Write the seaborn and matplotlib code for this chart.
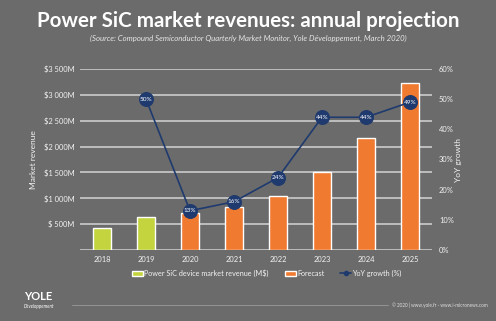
import numpy as np
import pandas as pd
import matplotlib
matplotlib.use("Agg")
import matplotlib.pyplot as plt
import seaborn as sns
from matplotlib.patches import Patch
from matplotlib.lines import Line2D

years = ["2018", "2019", "2020", "2021", "2022", "2023", "2024", "2025"]
revenue = [420, 630, 720, 840, 1040, 1500, 2170, 3230]
kind = ["Actual", "Actual", "Forecast", "Forecast", "Forecast", "Forecast", "Forecast", "Forecast"]
yoy_years = ["2019", "2020", "2021", "2022", "2023", "2024", "2025"]
yoy = [50, 13, 16, 24, 44, 44, 49]
left_ticks = [500, 1000, 1500, 2000, 2500, 3000, 3500]
left_labels = ["$ 500M", "$1 000M", "$1 500M", "$2 000M", "$2 500M", "$3 000M", "$3 500M"]
right_ticks = [0, 10, 20, 30, 40, 50, 60]

BG = "#6b6b6b"
GREEN = "#c3d43f"
ORANGE = "#f07a30"
NAVY = "#1f3a6e"
GRID = "#c4c4c4"
TXT = "#f2f2f2"

sns.set_theme(style="white")
plt.rcParams["font.family"] = ["Lato", "DejaVu Sans"]

fig = plt.figure(figsize=(4.96, 3.21), dpi=100, facecolor=BG)
ax = fig.add_axes([80/496, 1-250/321, 352/496, 181/321])
ax.set_facecolor(BG)

df = pd.DataFrame({"year": years, "revenue": revenue, "kind": kind})
sns.barplot(data=df, x="year", y="revenue", hue="kind", palette={"Actual": GREEN, "Forecast": ORANGE},
            dodge=False, width=0.41, ax=ax, legend=False, saturation=1)
ax.set_ylim(0, 3500)
ax.set_xlim(-0.5, 7.5)
ax.set_yticks(left_ticks)
ax.set_yticklabels(left_labels)
ax.yaxis.grid(True, color=GRID, linewidth=1.3)
ax.axhline(0, color=GRID, linewidth=1.3, zorder=0.5)
ax.set_axisbelow(True)
for s in ax.spines.values():
    s.set_visible(False)
ax.tick_params(axis="y", colors=TXT, labelsize=5.4, length=0, pad=4)
ax.tick_params(axis="x", colors=TXT, labelsize=5.4, length=0, pad=4)
ax.set_xlabel("")
ax.set_ylabel("Market revenue", color=TXT, fontsize=6, labelpad=5)

ax2 = ax.twinx()
ax2.set_ylim(0, 60)
ax2.set_yticks(right_ticks)
ax2.set_yticklabels([f"{v}%" for v in right_ticks])
for s in ax2.spines.values():
    s.set_visible(False)
ax2.tick_params(axis="y", colors=TXT, labelsize=5.4, length=0, pad=5)
ax2.set_ylabel("YoY growth", color=TXT, fontsize=6, labelpad=1)
xpos = [years.index(y) for y in yoy_years]
ldf = pd.DataFrame({"x": xpos, "yoy": yoy})
sns.lineplot(data=ldf, x="x", y="yoy", ax=ax2, color=NAVY, linewidth=1.2, marker="o",
             markersize=10, markerfacecolor=NAVY, markeredgecolor=NAVY)
for x, v in zip(xpos, yoy):
    ax2.text(x, v, f"{v}%", ha="center", va="center", color="white", fontsize=4.6, zorder=5)
ax2.set_xlim(-0.5, 7.5)
ax2.set_xlabel("")

handles = [Patch(facecolor=GREEN), Patch(facecolor=ORANGE),
           Line2D([0], [0], color=NAVY, marker="o", markersize=3, linewidth=1.2)]
fig.legend(handles, ["Power SiC device market revenue (M$)", "Forecast", "YoY growth (%)"],
           loc="center", bbox_to_anchor=(267/496, 1-273/321), ncol=3, frameon=False,
           fontsize=5.2, labelcolor=TXT, handlelength=1.5, handleheight=0.7,
           columnspacing=2.2, handletextpad=0.2)

fig.text(0.5, 1-21/321, "Power SiC market revenues: annual projection", ha="center", va="center",
         color="white", fontsize=14.8, fontweight="bold")
fig.text(0.5, 1-38/321, "(Source: Compound Semiconductor Quarterly Market Monitor, Yole Développement, March 2020)",
         ha="center", va="center", color="#e6e6e6", fontsize=5.6, style="italic")

# footer
fig.add_artist(Line2D([72/496, 388/496], [1-305/321, 1-305/321], color="#9a9a9a", linewidth=0.6))
fig.text(392/496, 1-305/321, "© 2020 | www.yole.fr - www.i-micronews.com", ha="left", va="center",
         color="#e0e0e0", fontsize=3.3)
fig.text(24/496, 1-297/321, "YOLE", ha="left", va="center", color="white", fontsize=8,
         fontweight="bold")
fig.text(24/496, 1-306/321, "Développement", ha="left", va="center", color="white", fontsize=3.3,
         style="italic")

fig.savefig("out.png", dpi=100, facecolor=BG)
